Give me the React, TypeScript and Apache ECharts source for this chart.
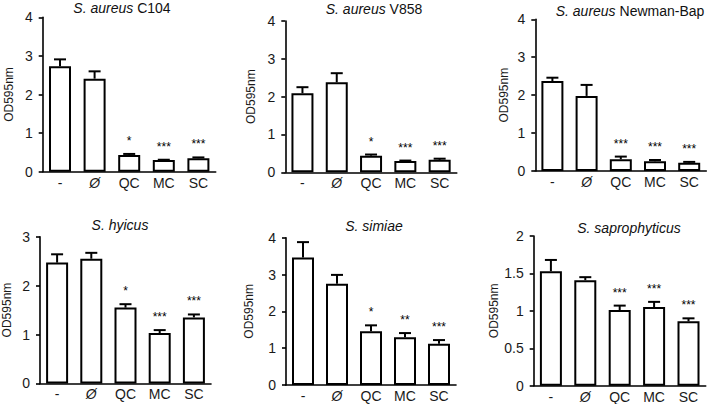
import React, { useEffect, useRef } from "react";
import * as echarts from "echarts";

const categories = ["-", "Ø", "QC", "MC", "SC"];

const titleItalic = ["S. aureus", "S. aureus", "S. aureus", "S. hyicus", "S. simiae", "S. saprophyticus"];
const titleRest = ["C104", "V858", "Newman-Bap", "", "", ""];

const c104Mean = [2.73, 2.41, 0.43, 0.3, 0.35];
const c104Sem = [0.18, 0.19, 0.03, 0.01, 0.02];
const v858Mean = [2.09, 2.38, 0.44, 0.3, 0.33];
const v858Sem = [0.16, 0.24, 0.03, 0.01, 0.03];
const newmanMean = [2.37, 1.98, 0.31, 0.26, 0.22];
const newmanSem = [0.09, 0.29, 0.07, 0.03, 0.02];
const hyicusMean = [2.47, 2.55, 1.55, 1.03, 1.35];
const hyicusSem = [0.17, 0.12, 0.07, 0.06, 0.06];
const simiaeMean = [3.46, 2.75, 1.46, 1.3, 1.12];
const simiaeSem = [0.42, 0.24, 0.16, 0.11, 0.1];
const saproMean = [1.53, 1.41, 1.01, 1.05, 0.86];
const saproSem = [0.15, 0.04, 0.06, 0.07, 0.04];

const sigTop = ["", "", "*", "***", "***"];
const sigNewman = ["", "", "***", "***", "***"];
const sigSimiae = ["", "", "*", "**", "***"];

const yMax = [4, 4, 4, 3, 4, 2];
const yInterval = [1, 1, 1, 1, 1, 0.5];

const means = [c104Mean, v858Mean, newmanMean, hyicusMean, simiaeMean, saproMean];
const sems = [c104Sem, v858Sem, newmanSem, hyicusSem, simiaeSem, saproSem];
const sigs = [sigTop, sigTop, sigNewman, sigTop, sigSimiae, sigNewman];

// layout (pixels)
const grids = [
  { left: 42.7, top: 17.3, width: 173, height: 154.4 },
  { left: 285.3, top: 21, width: 171.5, height: 151.3 },
  { left: 535.3, top: 19.3, width: 171, height: 151.7 },
  { left: 40, top: 236.7, width: 171, height: 146.7 },
  { left: 286, top: 237.7, width: 170, height: 147.3 },
  { left: 533.7, top: 236, width: 172, height: 149.7 },
];
const nameGaps = [28, 28, 25, 27, 31, 34];
const titlePos = [
  [122, 8],
  [374, 8.5],
  [630, 10.5],
  [120, 225],
  [374, 226],
  [629, 228],
];

const FONT = "Arial, 'Liberation Sans', Helvetica, sans-serif";
const TXT = "#1a1a1a";

export default function App() {
  const ref = useRef<HTMLDivElement>(null);
  useEffect(() => {
    if (!ref.current) return;
    const chart = echarts.init(ref.current, undefined, { renderer: "svg" });
    const xAxis: any[] = [];
    const yAxis: any[] = [];
    const series: any[] = [];
    const graphic: any[] = [];
    grids.forEach((g, k) => {
      xAxis.push({
        type: "category",
        gridIndex: k,
        data: categories,
        axisTick: { show: false },
        axisLine: { lineStyle: { color: "#000", width: 1.6 } },
        axisLabel: {
          interval: 0,
          hideOverlap: false,
          color: TXT,
          fontSize: 14,
          fontFamily: FONT,
          margin: 4,
          formatter: (v: string) => (v === "Ø" ? "{i|Ø}" : v),
          rich: { i: { fontStyle: "italic", fontSize: 14, fontFamily: FONT, color: TXT } },
        },
      });
      yAxis.push({
        type: "value",
        gridIndex: k,
        min: 0,
        max: yMax[k],
        interval: yInterval[k],
        name: "OD595nm",
        nameLocation: "middle",
        nameGap: nameGaps[k],
        nameTextStyle: { color: TXT, fontSize: 12, fontFamily: FONT },
        splitLine: { show: false },
        axisLine: { show: true, lineStyle: { color: "#000", width: 1.6 } },
        axisTick: { show: true, length: 4, lineStyle: { color: "#000", width: 1.6 } },
        axisLabel: { color: TXT, fontSize: 14, fontFamily: FONT, margin: 10 },
      });
      series.push({
        type: "bar",
        xAxisIndex: k,
        yAxisIndex: k,
        data: means[k],
        barWidth: 22,
        itemStyle: { color: "#fff", borderColor: "#000", borderWidth: 2 },
        z: 2,
      });
      const sg = sigs[k];
      series.push({
        type: "custom",
        xAxisIndex: k,
        yAxisIndex: k,
        z: 3,
        itemStyle: { color: "#000" },
        data: means[k].map((m, i) => [i, m, sems[k][i]]),
        renderItem: (params: any, api: any) => {
          const i = api.value(0);
          const m = api.value(1);
          const e = api.value(2);
          const base = api.coord([i, m]);
          const top = api.coord([i, m + e]);
          const hw = 6;
          const children: any[] = [
            {
              type: "line",
              shape: { x1: base[0], y1: base[1], x2: top[0], y2: top[1] },
              style: { stroke: "#000", lineWidth: 2 },
            },
            {
              type: "line",
              shape: { x1: top[0] - hw, y1: top[1], x2: top[0] + hw, y2: top[1] },
              style: { stroke: "#000", lineWidth: 2 },
            },
          ];
          const s = sg[params.dataIndex];
          if (s) {
            children.push({
              type: "text",
              x: top[0],
              y: top[1] - 7,
              style: {
                text: s,
                textAlign: "center",
                textVerticalAlign: "bottom",
                fontSize: 12,
                fontFamily: FONT,
                fill: "#000",
                stroke: "none",
              },
            });
          }
          return { type: "group", children };
        },
      });
      const rest = titleRest[k] ? " " + titleRest[k] : "";
      graphic.push({
        type: "text",
        x: titlePos[k][0],
        y: titlePos[k][1],
        style: {
          text: "{i|" + titleItalic[k] + "}" + rest,
          textAlign: "center",
          textVerticalAlign: "middle",
          fontSize: 14,
          fontFamily: FONT,
          fill: "#111",
          rich: { i: { fontStyle: "italic", fontSize: 14, fontFamily: FONT, fill: "#111" } },
        },
      });
    });
    chart.setOption({
      animation: false,
      backgroundColor: "#fff",
      grid: grids.map((g) => ({ ...g, containLabel: false })),
      xAxis,
      yAxis,
      series,
      graphic,
    });
    return () => chart.dispose();
  }, []);
  return (
    <div
      ref={ref}
      style={{ position: "fixed", left: 0, top: 0, width: 708, height: 404, background: "#fff" }}
    />
  );
}
